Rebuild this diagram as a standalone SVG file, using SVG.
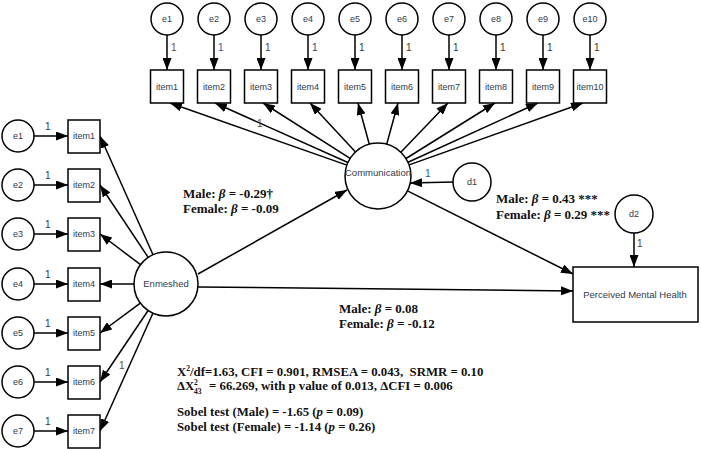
<svg xmlns="http://www.w3.org/2000/svg" width="701" height="449" viewBox="0 0 701 449">
<style>
.bg{fill:#fff}
.lat{fill:#fff;stroke:#000;stroke-width:1.5}
.box{fill:#fff;stroke:#000;stroke-width:1.5}
.lbl{font-family:"Liberation Sans",Arial,sans-serif;font-size:9px;fill:#2e3a4e;text-anchor:middle}
.one{font-family:"Liberation Sans",Arial,sans-serif;font-size:10px;fill:#333}
.edge{stroke:#000;stroke-width:1.5;fill:none;marker-end:url(#ah)}
.stat{font-family:"Liberation Serif","Times New Roman",serif;font-size:13px;font-weight:bold;fill:#111}
.fit{font-family:"Liberation Serif","Times New Roman",serif;font-size:12.8px;font-weight:bold;fill:#111}
.sm{font-size:7.5px}
</style>
<defs>
<marker id="ah" viewBox="0 0 12 9" refX="12" refY="4.5" markerWidth="12" markerHeight="9" markerUnits="userSpaceOnUse" orient="auto">
<path d="M0,0 L12,4.5 L0,9 Z" fill="#000"/>
</marker>
</defs>
<rect class="bg" x="0" y="0" width="701" height="449"/>

<g id="connectors">
<line class="edge" x1="167" y1="35" x2="167" y2="70"/>
<line class="edge" x1="214" y1="35" x2="214" y2="70"/>
<line class="edge" x1="261" y1="35" x2="261" y2="70"/>
<line class="edge" x1="308" y1="35" x2="308" y2="70"/>
<line class="edge" x1="355" y1="35" x2="355" y2="70"/>
<line class="edge" x1="402" y1="35" x2="402" y2="70"/>
<line class="edge" x1="449" y1="35" x2="449" y2="70"/>
<line class="edge" x1="496" y1="35" x2="496" y2="70"/>
<line class="edge" x1="543" y1="35" x2="543" y2="70"/>
<line class="edge" x1="590" y1="35" x2="590" y2="70"/>
<line class="edge" x1="346.9" y1="165.1" x2="170" y2="103"/>
<line class="edge" x1="347.9" y1="162.5" x2="215" y2="103"/>
<line class="edge" x1="350.1" y1="158.3" x2="263" y2="103"/>
<line class="edge" x1="355.5" y1="151.9" x2="310" y2="103"/>
<line class="edge" x1="369.3" y1="144.2" x2="358" y2="103"/>
<line class="edge" x1="386.7" y1="144.2" x2="398" y2="103"/>
<line class="edge" x1="400.8" y1="152.2" x2="448" y2="103"/>
<line class="edge" x1="406.0" y1="158.5" x2="495" y2="103"/>
<line class="edge" x1="408.0" y1="162.3" x2="538" y2="103"/>
<line class="edge" x1="409.1" y1="164.9" x2="583" y2="103"/>
<line class="edge" x1="34" y1="136" x2="68" y2="136"/>
<line class="edge" x1="34" y1="185" x2="68" y2="185"/>
<line class="edge" x1="34" y1="234" x2="68" y2="234"/>
<line class="edge" x1="34" y1="284" x2="68" y2="284"/>
<line class="edge" x1="34" y1="333" x2="68" y2="333"/>
<line class="edge" x1="34" y1="382" x2="68" y2="382"/>
<line class="edge" x1="34" y1="431" x2="68" y2="431"/>
<line class="edge" x1="153.0" y1="254.8" x2="100" y2="136"/>
<line class="edge" x1="148.2" y1="257.4" x2="100" y2="185"/>
<line class="edge" x1="140.5" y1="264.7" x2="100" y2="234"/>
<line class="edge" x1="134" y1="284" x2="100" y2="284"/>
<line class="edge" x1="140.3" y1="303.1" x2="100" y2="333"/>
<line class="edge" x1="148.1" y1="310.5" x2="100" y2="382"/>
<line class="edge" x1="152.9" y1="313.2" x2="100" y2="431"/>
<line class="edge" x1="198" y1="274" x2="347" y2="190"/>
<line class="edge" x1="198" y1="287" x2="573" y2="291"/>
<line class="edge" x1="407.5" y1="190.8" x2="573" y2="274"/>
<line class="edge" x1="453" y1="182" x2="410" y2="183"/>
<line class="edge" x1="634" y1="233" x2="634" y2="267"/>
<text class="one" x="171" y="51" style="fill:#7b3f1d">1</text>
<text class="one" x="218" y="51" style="fill:#2a5d9f">1</text>
<text class="one" x="265" y="51" style="fill:#5a3a20">1</text>
<text class="one" x="312" y="51" style="fill:#1c3f7a">1</text>
<text class="one" x="359" y="51">1</text>
<text class="one" x="406" y="51">1</text>
<text class="one" x="453" y="51">1</text>
<text class="one" x="500" y="51">1</text>
<text class="one" x="547" y="51">1</text>
<text class="one" x="594" y="51">1</text>
<text class="one" x="257" y="127" style="fill:#6b4a20">1</text>
<text class="one" x="45" y="130">1</text>
<text class="one" x="45" y="179">1</text>
<text class="one" x="45" y="228">1</text>
<text class="one" x="45" y="278">1</text>
<text class="one" x="45" y="327">1</text>
<text class="one" x="45" y="376">1</text>
<text class="one" x="45" y="425">1</text>
<text class="one" x="119" y="369" style="fill:#6b4a20">1</text>
<text class="one" x="425" y="177" style="fill:#2a5d9f">1</text>
<text class="one" x="637" y="247" style="fill:#5a3a20">1</text>
</g>

<g id="e1t"><circle class="lat" cx="167" cy="19" r="16"/><text class="lbl" x="167" y="22">e1</text></g>
<g id="e2t"><circle class="lat" cx="214" cy="19" r="16"/><text class="lbl" x="214" y="22">e2</text></g>
<g id="e3t"><circle class="lat" cx="261" cy="19" r="16"/><text class="lbl" x="261" y="22">e3</text></g>
<g id="e4t"><circle class="lat" cx="308" cy="19" r="16"/><text class="lbl" x="308" y="22">e4</text></g>
<g id="e5t"><circle class="lat" cx="355" cy="19" r="16"/><text class="lbl" x="355" y="22">e5</text></g>
<g id="e6t"><circle class="lat" cx="402" cy="19" r="16"/><text class="lbl" x="402" y="22">e6</text></g>
<g id="e7t"><circle class="lat" cx="449" cy="19" r="16"/><text class="lbl" x="449" y="22">e7</text></g>
<g id="e8t"><circle class="lat" cx="496" cy="19" r="16"/><text class="lbl" x="496" y="22">e8</text></g>
<g id="e9t"><circle class="lat" cx="543" cy="19" r="16"/><text class="lbl" x="543" y="22">e9</text></g>
<g id="e10t"><circle class="lat" cx="590" cy="19" r="16"/><text class="lbl" x="590" y="22">e10</text></g>

<g id="item1t"><rect class="box" x="150.5" y="70" width="33" height="33"/><text class="lbl" x="167" y="90">item1</text></g>
<g id="item2t"><rect class="box" x="197.5" y="70" width="33" height="33"/><text class="lbl" x="214" y="90">item2</text></g>
<g id="item3t"><rect class="box" x="244.5" y="70" width="33" height="33"/><text class="lbl" x="261" y="90">item3</text></g>
<g id="item4t"><rect class="box" x="291.5" y="70" width="33" height="33"/><text class="lbl" x="308" y="90">item4</text></g>
<g id="item5t"><rect class="box" x="338.5" y="70" width="33" height="33"/><text class="lbl" x="355" y="90">item5</text></g>
<g id="item6t"><rect class="box" x="385.5" y="70" width="33" height="33"/><text class="lbl" x="402" y="90">item6</text></g>
<g id="item7t"><rect class="box" x="432.5" y="70" width="33" height="33"/><text class="lbl" x="449" y="90">item7</text></g>
<g id="item8t"><rect class="box" x="479.5" y="70" width="33" height="33"/><text class="lbl" x="496" y="90">item8</text></g>
<g id="item9t"><rect class="box" x="526.5" y="70" width="33" height="33"/><text class="lbl" x="543" y="90">item9</text></g>
<g id="item10t"><rect class="box" x="573.5" y="70" width="33" height="33"/><text class="lbl" x="590" y="90">item10</text></g>

<g id="e1l"><circle class="lat" cx="18" cy="136" r="16"/><text class="lbl" x="18" y="139">e1</text></g>
<g id="e2l"><circle class="lat" cx="18" cy="185" r="16"/><text class="lbl" x="18" y="188">e2</text></g>
<g id="e3l"><circle class="lat" cx="18" cy="234" r="16"/><text class="lbl" x="18" y="237">e3</text></g>
<g id="e4l"><circle class="lat" cx="18" cy="284" r="16"/><text class="lbl" x="18" y="287">e4</text></g>
<g id="e5l"><circle class="lat" cx="18" cy="333" r="16"/><text class="lbl" x="18" y="336">e5</text></g>
<g id="e6l"><circle class="lat" cx="18" cy="382" r="16"/><text class="lbl" x="18" y="385">e6</text></g>
<g id="e7l"><circle class="lat" cx="18" cy="431" r="16"/><text class="lbl" x="18" y="434">e7</text></g>

<g id="item1l"><rect class="box" x="68" y="120" width="32" height="33"/><text class="lbl" x="84" y="139">item1</text></g>
<g id="item2l"><rect class="box" x="68" y="169" width="32" height="33"/><text class="lbl" x="84" y="188">item2</text></g>
<g id="item3l"><rect class="box" x="68" y="218" width="32" height="33"/><text class="lbl" x="84" y="237">item3</text></g>
<g id="item4l"><rect class="box" x="68" y="268" width="32" height="33"/><text class="lbl" x="84" y="287">item4</text></g>
<g id="item5l"><rect class="box" x="68" y="317" width="32" height="33"/><text class="lbl" x="84" y="336">item5</text></g>
<g id="item6l"><rect class="box" x="68" y="366" width="32" height="33"/><text class="lbl" x="84" y="385">item6</text></g>
<g id="item7l"><rect class="box" x="68" y="415" width="32" height="33"/><text class="lbl" x="84" y="434">item7</text></g>

<g id="communication"><circle class="lat" cx="378" cy="176" r="33"/><text class="lbl" x="378" y="176" style="font-size:9.5px">Communication</text></g>
<g id="enmeshed"><circle class="lat" cx="166" cy="284" r="32"/><text class="lbl" x="166" y="287" style="font-size:9.5px">Enmeshed</text></g>
<g id="d1"><circle class="lat" cx="472" cy="182" r="19"/><text class="lbl" x="472" y="185">d1</text></g>
<g id="d2"><circle class="lat" cx="634" cy="214" r="19"/><text class="lbl" x="634" y="217">d2</text></g>
<g id="pmh"><rect class="box" x="573" y="267" width="125" height="55"/><text class="lbl" x="635" y="298" style="font-size:9.5px">Perceived Mental Health</text></g>

<g id="coefficients">
<text class="stat" x="183" y="198">Male: <tspan font-style="italic">β</tspan> = -0.29†</text>
<text class="stat" x="183" y="213">Female: <tspan font-style="italic">β</tspan> = -0.09</text>
<text class="stat" x="496" y="203">Male: <tspan font-style="italic">β</tspan> = 0.43 ***</text>
<text class="stat" x="496" y="219">Female: <tspan font-style="italic">β</tspan> = 0.29 ***</text>
<text class="stat" x="339" y="313">Male: <tspan font-style="italic">β</tspan> = 0.08</text>
<text class="stat" x="339" y="328">Female: <tspan font-style="italic">β</tspan> = -0.12</text>
</g>

<g id="fit">
<text class="fit" x="177" y="376" xml:space="preserve">X<tspan class="sm" dy="-5">2</tspan><tspan dy="5">/df=1.63, CFI = 0.901, RMSEA = 0.043,  SRMR = 0.10</tspan></text>
<text class="fit" x="177" y="390">ΔX</text>
<text class="fit sm" x="194" y="385">2</text>
<text class="fit sm" x="194" y="394">43</text>
<text class="fit" x="209" y="390">= 66.269, with p value of 0.013, ΔCFI = 0.006</text>
<text class="fit" x="177" y="416">Sobel test (Male) = -1.65 (<tspan font-style="italic">p</tspan> = 0.09)</text>
<text class="fit" x="177" y="431">Sobel test (Female) = -1.14 (<tspan font-style="italic">p</tspan> = 0.26)</text>
</g>
</svg>
